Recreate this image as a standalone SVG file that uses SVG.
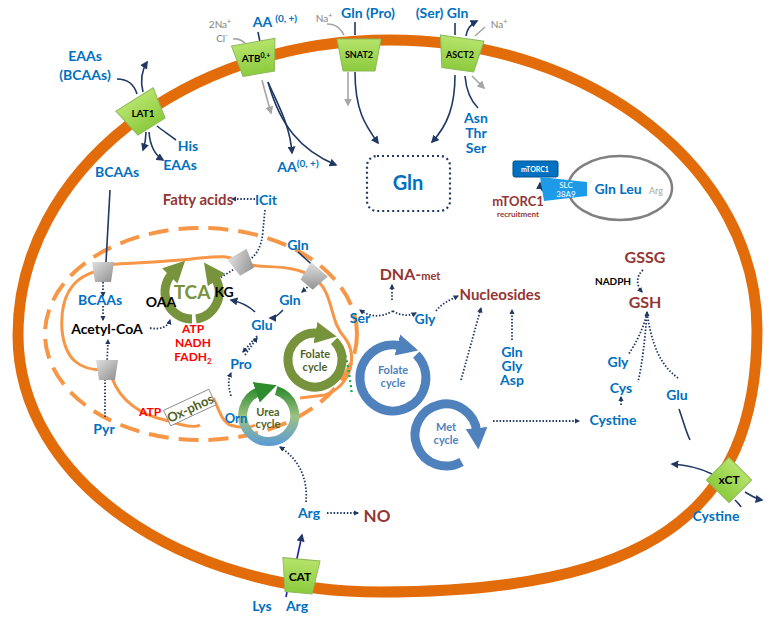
<svg xmlns="http://www.w3.org/2000/svg" width="774" height="621" viewBox="0 0 774 621">
<defs>
<style>
text{font-family:Lato,"Liberation Sans",sans-serif;font-weight:bold;text-anchor:middle}
.b{fill:#0070C0;font-size:14px}
.r{fill:#943634;font-size:15px}
.k{fill:#000;font-size:14px}
.red{fill:#FF0000;font-size:12px}
.g{fill:#7F7F7F;font-size:10px;font-weight:normal}
.tl{font-size:10px;fill:#000}
.ln{fill:none;stroke:#1F3864;stroke-width:1.6}
.dt{fill:none;stroke:#1F3864;stroke-width:1.8;stroke-dasharray:1.5 1.8}
.gl{fill:none;stroke:#A6A6A6;stroke-width:1.6}
.cyc{fill:none;stroke-width:9}
</style>
<linearGradient id="gr" x1="0" y1="0" x2="0" y2="1"><stop offset="0" stop-color="#B5E36A"/><stop offset="1" stop-color="#8CCB3E"/></linearGradient>
<linearGradient id="gy" x1="0" y1="0" x2="1" y2="1"><stop offset="0" stop-color="#E0E0E0"/><stop offset="1" stop-color="#8E8E8E"/></linearGradient>
<linearGradient id="ug" x1="0" y1="388" x2="0" y2="445" gradientUnits="userSpaceOnUse"><stop offset="0" stop-color="#2E8B2E"/><stop offset="0.5" stop-color="#9DC183"/><stop offset="1" stop-color="#5B9BD5"/></linearGradient>
<marker id="an" viewBox="0 0 10 10" refX="8" refY="5" markerWidth="5" markerHeight="5" orient="auto" markerUnits="strokeWidth"><path d="M0,0 L10,5 L0,10 z" fill="#1F3864"/></marker>
<marker id="ag" viewBox="0 0 10 10" refX="8" refY="5" markerWidth="5" markerHeight="5" orient="auto" markerUnits="strokeWidth"><path d="M0,0 L10,5 L0,10 z" fill="#A6A6A6"/></marker>
<marker id="ad" viewBox="0 0 10 10" refX="8" refY="5" markerWidth="3" markerHeight="3" orient="auto" markerUnits="strokeWidth"><path d="M0,0 L10,5 L0,10 z" fill="#1F3864"/></marker>
<marker id="mg" viewBox="0 0 10 10" refX="2" refY="5" markerWidth="2.4" markerHeight="2.6" orient="auto" markerUnits="strokeWidth"><path d="M0,0 L10,5 L0,10 z" fill="#77933C"/></marker>
<marker id="mb" viewBox="0 0 10 10" refX="2" refY="5" markerWidth="2.4" markerHeight="2.6" orient="auto" markerUnits="strokeWidth"><path d="M0,0 L10,5 L0,10 z" fill="#4F81BD"/></marker>
<marker id="mu" viewBox="0 0 10 10" refX="2" refY="5" markerWidth="2.4" markerHeight="2.6" orient="auto" markerUnits="strokeWidth"><path d="M0,0 L10,5 L0,10 z" fill="#2E8B2E"/></marker>
<path id="trap" d="M-22,-16 L22,-16 L16,16 L-16,16 z"/>
<path id="gtr" d="M-11,-10 L11,-10 L8,10 L-8,10 z"/>
</defs>
<rect width="774" height="621" fill="#fff"/>

<g id="membrane">
<path d="M390,40 C593,40 757,170 757,330 C757,516 644,592 380,592 C180,592 18,479 18,335 C18,172 185,40 390,40 z" fill="none" stroke="#E36C0A" stroke-width="11"/>
</g>

<g id="mitochondrion">
<ellipse cx="201" cy="334" rx="156" ry="106" fill="none" stroke="#F79646" stroke-width="4" stroke-dasharray="20 10"/>
<path d="M103,265 C140,262 170,262 200,258 C220,256 230,255 242,263 C262,270 290,262 313,277 C335,292 328,320 345,338 C358,355 352,385 325,395 L300,398 M255,425 C250,428 240,428 230,425 C220,420 218,405 213,398 M165,420 C140,415 120,400 112,378 M103,370 C80,370 65,360 62,330 C60,300 70,275 103,270" fill="none" stroke="#F79646" stroke-width="3"/>
<path d="M165,420 C180,425 195,428 200,425" fill="none" stroke="#F79646" stroke-width="3"/>
</g>

<g id="connectors">
<path class="ln" d="M117,79 C128,79 134,84 137,94"/>
<path class="ln" d="M143,92 C140,80 142,70 147,62" marker-end="url(#an)"/>
<path class="ln" d="M176,140 C168,134 162,130 157,126"/>
<path class="ln" d="M146,132 C146,140 145,144 143,150" marker-end="url(#an)"/>
<path class="ln" d="M149,132 C150,145 155,155 163,160" marker-end="url(#an)"/>
<path class="gl" d="M233,39 C240,38 244,41 247,46"/>
<path class="gl" d="M262,80 C265,92 268,102 271,113" marker-end="url(#ag)"/>
<path class="ln" d="M258,32 L260,42"/>
<path class="ln" d="M268,82 C278,105 290,125 292,153" marker-end="url(#an)"/>
<path class="ln" d="M268,82 C280,125 300,150 336,165" marker-end="url(#an)"/>
<path class="gl" d="M327,24 C336,24 340,28 344,35"/>
<path class="ln" d="M355,22 L355,35"/>
<path class="gl" d="M348,72 L348,105" marker-end="url(#ag)"/>
<path class="ln" d="M355,72 C355,110 365,125 378,143" marker-end="url(#an)"/>
<path class="ln" d="M455,23 L455,35"/>
<path class="ln" d="M466,36 C467,29 471,24 477,21" marker-end="url(#an)"/>
<path class="gl" d="M485,27 L475,36"/>
<path class="ln" d="M455,75 C455,105 448,125 432,142" marker-end="url(#an)"/>
<path class="ln" d="M478,108 C470,100 466,88 465,76"/>
<path class="gl" d="M472,76 L484,88" marker-end="url(#ag)"/>
<path class="ln" d="M548,192 C542,193 540,188 540,183" stroke="#2E75B6" marker-end="url(#an)"/>
<path class="ln" d="M110,190 L106,262"/>
<path class="ln" d="M298,252 L318,270"/>
<path class="dt" d="M103,282 L103,296" marker-end="url(#ad)"/>
<path class="dt" d="M103,306 L103,320" marker-end="url(#ad)"/>
<path class="dt" d="M107,363 L108,340" marker-end="url(#ad)"/>
<path class="dt" d="M105,417 L105,380"/>
<path class="dt" d="M150,328 C160,330 168,327 170,320" marker-end="url(#ad)"/>
<path class="dt" d="M265,210 L263,230 C262,248 255,258 245,262"/>
<path class="dt" d="M236,268 L220,278"/>
<path class="dt" d="M255,199 L232,199" marker-end="url(#ad)"/>
<path class="dt" d="M310,285 L302,292" marker-end="url(#ad)"/>
<path class="ln" d="M283,310 C278,315 275,318 270,318" marker-end="url(#an)"/>
<path class="ln" d="M255,312 C248,305 240,302 231,300" marker-end="url(#an)"/>
<path class="dt" d="M257,336 L243,352" marker-end="url(#ad)"/>
<path class="dt" d="M245,355 L257,338" marker-end="url(#ad)"/>
<path class="dt" d="M231,396 C228,385 228,380 231,373" marker-end="url(#ad)"/>
<path d="M342,346 C348,360 350,380 352,395" fill="none" stroke="#00B050" stroke-width="2.2" stroke-dasharray="2 3"/>
<path class="dt" d="M393,311 C380,318 370,317 360,310" marker-end="url(#ad)"/>
<path class="dt" d="M393,311 C400,316 410,316 416,313" marker-end="url(#ad)"/>
<path class="dt" d="M392,300 L392,285" marker-end="url(#ad)"/>
<path class="dt" d="M436,311 C442,303 450,300 458,296" marker-end="url(#ad)"/>
<path class="dt" d="M461,380 L481,308" marker-end="url(#ad)"/>
<path class="dt" d="M512,340 L512,310" marker-end="url(#ad)"/>
<path class="dt" d="M493,421 L579,421" marker-end="url(#ad)"/>
<path class="dt" d="M621,405 L621,397" marker-end="url(#ad)"/>
<path class="dt" d="M647,313 C643,330 635,345 628,355"/>
<path class="dt" d="M647,313 C645,340 642,365 638,382"/>
<path class="dt" d="M647,313 C652,345 660,365 678,378"/>
<path class="dt" d="M647,313 L647,312" marker-end="url(#ad)"/>
<path class="dt" d="M643,270 C636,276 636,285 642,292" marker-end="url(#ad)"/>
<path class="ln" d="M679,409 C683,420 686,432 690,440"/>
<path class="ln" d="M712,474 C700,468 688,465 672,464" marker-end="url(#an)"/>
<path class="ln" d="M745,492 C752,496 756,499 762,500" marker-end="url(#an)"/>
<path class="ln" d="M735,500 C738,503 740,505 741,507"/>
<path class="dt" d="M306,502 C308,480 300,460 280,447" marker-end="url(#ad)"/>
<path class="dt" d="M327,513 L358,513" marker-end="url(#ad)"/>
<path d="M296,563 L302,535" stroke="#1F1F9F" stroke-width="1.6" fill="none" marker-end="url(#an)"/>
<path d="M286,597 L287,592" stroke="#1F1F9F" stroke-width="1.6"/>
</g>

<g id="cycles">
<path class="cyc" stroke="#77933C" d="M192,319 A27,27 0 0 1 172.9,272.9" marker-end="url(#mg)"/>
<path class="cyc" stroke="#77933C" d="M196,319 A27,27 0 0 0 214.1,276.5" marker-end="url(#mg)"/>
<path class="cyc" stroke="#77933C" d="M334.1,340.9 A27,27 0 1 1 319.7,333.4" marker-end="url(#mg)"/>
<path class="cyc" stroke="url(#ug)" d="M276.2,390.6 A26,26 0 1 1 260.3,390.9" marker-end="url(#mu)"/>
<path class="cyc" stroke="#4F81BD" d="M416.3,354.7 A33,33 0 1 1 401.5,346.1" marker-end="url(#mb)"/>
<path class="cyc" stroke="#4F81BD" d="M461.5,461.8 A31,31 0 1 1 476.9,432.3" marker-end="url(#mb)"/>
</g>

<g id="LAT1"><use href="#trap" transform="translate(143,113) rotate(-32)" fill="url(#gr)" stroke="#8DB95A"/><text class="tl" x="143" y="117">LAT1</text></g>
<g id="ATB"><use href="#trap" transform="translate(256,58) rotate(-10)" fill="url(#gr)" stroke="#8DB95A"/><text class="tl" x="256" y="62" font-size="9">ATB<tspan font-size="7" dy="-4">0,+</tspan></text></g>
<g id="SNAT2"><use href="#trap" transform="translate(359,55)" fill="url(#gr)" stroke="#8DB95A"/><text class="tl" x="359" y="58" style="font-size:9px">SNAT2</text></g>
<g id="ASCT2"><use href="#trap" transform="translate(460,54) rotate(8)" fill="url(#gr)" stroke="#8DB95A"/><text class="tl" x="460" y="58" style="font-size:9px">ASCT2</text></g>
<g id="CAT"><use href="#trap" transform="translate(300,576) rotate(5) scale(0.85,1.05)" fill="url(#gr)" stroke="#8DB95A"/><text class="tl" x="300" y="581" style="font-size:12px">CAT</text></g>
<g id="xCT"><rect x="-16" y="-16" width="32" height="32" transform="translate(729,480) rotate(45)" fill="url(#gr)" stroke="#8DB95A"/><text class="tl" x="729" y="484" style="font-size:12px">xCT</text></g>

<g id="mito-transporters">
<use href="#gtr" transform="translate(103,272)" fill="url(#gy)"/>
<use href="#gtr" transform="translate(242,263) rotate(-30)" fill="url(#gy)"/>
<use href="#gtr" transform="translate(313,277) rotate(40)" fill="url(#gy)"/>
<use href="#gtr" transform="translate(107,370)" fill="url(#gy)"/>
</g>

<g id="gln-pool"><rect x="367" y="156" width="83" height="55" rx="10" fill="none" stroke="#1F3864" stroke-width="2.2" stroke-dasharray="2 3"/><text class="b" x="408" y="190" style="font-size:20px">Gln</text></g>

<g id="mtorc1">
<ellipse cx="620" cy="188" rx="52" ry="32" fill="none" stroke="#808080" stroke-width="2.5"/>
<rect x="513" y="161" width="45" height="16" rx="2" fill="#0070C0" stroke="#00508C"/>
<text x="535" y="172" style="font-size:7px;fill:#fff">mTORC1</text>
<path d="M540,177 L587,182 L587,196 L544,201 z" fill="#1E9BE8"/>
<text x="566" y="188" style="font-size:8px;fill:#fff;font-weight:normal">SLC</text>
<text x="566" y="197" style="font-size:8px;fill:#fff;font-weight:normal">38A9</text>
<text class="b" x="618" y="194">Gln Leu</text>
<text x="656" y="194" style="font-size:9px;fill:#A6A6A6;font-weight:normal">Arg</text>
<text class="r" x="518" y="206" style="font-size:13px">mTORC1</text>
<text x="518" y="217" style="font-size:8px;fill:#943634">recruitment</text>
</g>

<g id="labels">
<text class="b" x="85" y="61">EAAs</text>
<text class="b" x="85" y="80">(BCAAs)</text>
<text class="b" x="188" y="151">His</text>
<text class="b" x="180" y="170">EAAs</text>
<text class="b" x="117" y="177">BCAAs</text>
<text class="g" x="220" y="28">2Na<tspan dy="-4" font-size="7">+</tspan></text>
<text class="g" x="222" y="42">Cl<tspan dy="-4" font-size="7">-</tspan></text>
<text class="b" x="275" y="27">AA <tspan font-size="10" dy="-5">(0, +)</tspan></text>
<text class="g" x="324" y="22">Na<tspan dy="-4" font-size="7">+</tspan></text>
<text class="b" x="368" y="18">Gln (Pro)</text>
<text class="b" x="442" y="18">(Ser) Gln</text>
<text class="g" x="499" y="28">Na<tspan dy="-4" font-size="7">+</tspan></text>
<text class="b" x="298" y="172">AA<tspan font-size="10" dy="-5">(0, +)</tspan></text>
<text class="b" x="476" y="123">Asn</text>
<text class="b" x="476" y="138">Thr</text>
<text class="b" x="476" y="153">Ser</text>
<text class="r" x="198" y="205">Fatty acids</text>
<text class="b" x="266" y="205">ICit</text>
<text class="b" x="100" y="305">BCAAs</text>
<text class="k" x="107" y="334">Acetyl-CoA</text>
<text class="k" x="161" y="307">OAA</text>
<text x="192" y="299" style="font-size:19px;fill:#77933C">TCA</text>
<text class="k" x="224" y="297">KG</text>
<text class="red" x="193" y="333">ATP</text>
<text class="red" x="193" y="347">NADH</text>
<text class="red" x="193" y="361">FADH<tspan font-size="8" dy="3">2</tspan></text>
<text class="b" x="298" y="250">Gln</text>
<text class="b" x="290" y="305">Gln</text>
<text class="b" x="262" y="330">Glu</text>
<text class="b" x="241" y="369">Pro</text>
<text x="315" y="358" style="font-size:11px;fill:#4F6228">Folate</text>
<text x="315" y="371" style="font-size:11px;fill:#4F6228">cycle</text>
<text class="b" x="236" y="423" style="font-size:13px">Orn</text>
<text x="268" y="416" style="font-size:11px;fill:#4F6228">Urea</text>
<text x="268" y="428" style="font-size:11px;fill:#4F6228">cycle</text>
<text class="red" x="150" y="416">ATP</text>
<g transform="translate(190,408) rotate(-25)"><rect x="-25" y="-9" width="50" height="17" fill="#fff" stroke="#7F7F7F" stroke-width="0.8"/><text x="0" y="5" style="font-size:13px;fill:#4F6228">Ox-phos</text></g>
<text class="b" x="104" y="434">Pyr</text>
<text class="b" x="360" y="323">Ser</text>
<text class="b" x="425" y="324">Gly</text>
<text class="r" x="410" y="280" style="font-size:16px">DNA-<tspan font-size="11">met</tspan></text>
<text class="r" x="500" y="300">Nucleosides</text>
<text class="b" x="512" y="357">Gln</text>
<text class="b" x="512" y="371">Gly</text>
<text class="b" x="512" y="385">Asp</text>
<text x="393" y="374" style="font-size:11px;fill:#4F81BD">Folate</text>
<text x="393" y="387" style="font-size:11px;fill:#4F81BD">cycle</text>
<text x="446" y="431" style="font-size:11px;fill:#4F81BD">Met</text>
<text x="446" y="444" style="font-size:11px;fill:#4F81BD">cycle</text>
<text class="r" x="645" y="263" style="font-size:16px">GSSG</text>
<text class="k" x="613" y="285" style="font-size:10px">NADPH</text>
<text class="r" x="645" y="308" style="font-size:16px">GSH</text>
<text class="b" x="618" y="367">Gly</text>
<text class="b" x="621" y="393">Cys</text>
<text class="b" x="677" y="400">Glu</text>
<text class="b" x="613" y="425">Cystine</text>
<text class="b" x="716" y="521">Cystine</text>
<text class="b" x="309" y="518">Arg</text>
<text class="r" x="377" y="522" style="font-size:17px">NO</text>
<text class="b" x="262" y="611">Lys</text>
<text class="b" x="297" y="611">Arg</text>
</g>
</svg>
